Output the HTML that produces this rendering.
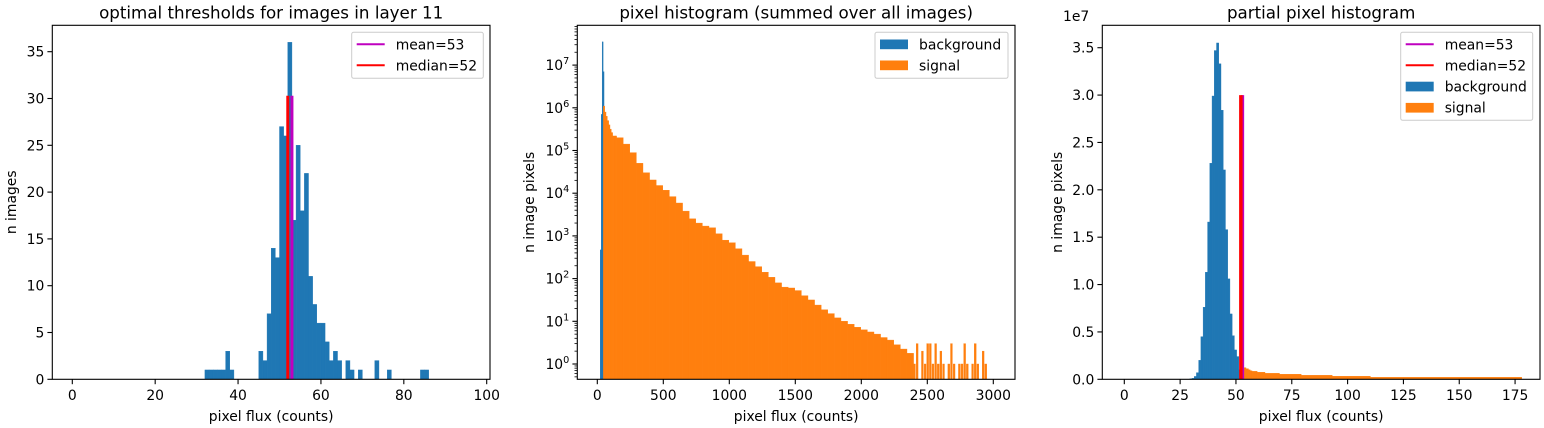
<!DOCTYPE html>
<html><head><meta charset="utf-8">
<style>
html,body{margin:0;padding:0;background:#fff;}
svg{display:block;font-family:"DejaVu Sans","Liberation Sans",sans-serif;}
text{fill:#000;}
</style></head>
<body>
<svg id="fig" width="1544" height="428" viewBox="0 0 1544 428" xmlns="http://www.w3.org/2000/svg"></svg>
<script>
// ---------- data: chart 1 (optimal thresholds) ----------
const thrBinStarts = [32,33,34,35,36,37,38,45,46,47,48,49,50,51,52,53,54,55,56,57,58,59,60,61,62,63,64,66,67,69,73,76,84,85];
const thrCounts    = [1,1,1,1,1,3,1,3,2,7,14,13,27,26,36,17,25,18,22,11,8,6,6,4,2,3,2,2,1,1,2,1,1,1];
const thrMean = 53, thrMedian = 52, thrLineHeight = 30.3;
const c1XTicks = [0,20,40,60,80,100];
const c1YTicks = [0,5,10,15,20,25,30,35];

// ---------- data: chart 2 (full histogram, log) ----------
const bgEdges2 = [22,30,37,44,51];
const bgCounts2 = [470,700000,35000000,7000000];
const headStart2 = 46, headBin2 = 10;
const headLog2 = [6.04,5.9,5.8,5.7,5.6,5.5,5.42,5.34,5.34,5.34];
const sigStart2 = 146, sigBin2 = 50;
const sigLog2 = [5.3,5.15,4.95,4.7,4.48,4.31,4.18,4.07,3.92,3.77,3.58,3.4,3.3,3.23,3.19,3.05,2.9,2.84,2.7,2.55,2.4,2.28,2.15,2.03,1.9,1.8,1.78,1.72,1.6,1.5,1.38,1.27,1.18,1.08,1.0,0.93,0.86,0.8,0.75,0.7,0.62,0.56,0.45,0.35,0.25];
const tailStart2 = 2396, tailBin2 = 20;
const tailCounts2 = [1,3,0,2,1,3,3,1,3,1,2,1,0,1,3,1,0,1,1,3,1,0,1,3,1,0,2,1];
const c2XTicks = [0,500,1000,1500,2000,2500,3000];
const c2YTicks = [0,1,2,3,4,5,6,7];

// ---------- data: chart 3 (partial histogram, units of 1e6) ----------
const bgStart3 = 29.3;
const bgVals3 = [0.05,0.1,0.3,0.7,2.0,4.5,7.6,11.3,16.6,22.8,29.9,34.7,35.5,33.3,28.4,22.1,15.8,10.6,6.9,4.6,3.1,2.4,1.0];
const sigEdges3 = [53,54.5,55.6,56.4,57.2,59.5,63,69.5,79.2,93.1,110.2,178];
const sigVals3 = [1.23,1.12,1.0,0.9,0.84,0.74,0.63,0.53,0.42,0.32,0.21];
const c3Mean = 53, c3Median = 52.2, c3LineHeight = 30;
const c3XTicks = [0,25,50,75,100,125,150,175];
const c3YTicks = [0,0.5,1.0,1.5,2.0,2.5,3.0,3.5];

const BLUE = '#1f77b4', ORANGE = '#ff7f0e';
const FS = 13.9, TFS = 16.7;
const svg = document.getElementById('fig');
const NS = 'http://www.w3.org/2000/svg';
function mk(tag, attrs, parent){
  const e = document.createElementNS(NS, tag);
  for (const k in attrs) e.setAttribute(k, attrs[k]);
  (parent||svg).appendChild(e);
  return e;
}
function frame(g, L, R, T, B){
  const f = mk('rect', {x:L, y:T, width:R-L, height:B-T, fill:'none', stroke:'#000', 'stroke-width':1.1}, g);
  
  
}
function xTick(g, x, B, label){
  const t = mk('line', {x1:x, x2:x, y1:B, y2:B+4.9, stroke:'#000', 'stroke-width':1.1}, g);
  
  
  const tx = mk('text', {x:x, y:B+20.5, 'font-size':FS, 'text-anchor':'middle'}, g);
  tx.textContent = label;
  
  
}
function yTick(g, y, L, label, sup){
  const t = mk('line', {x1:L-4.9, x2:L, y1:y, y2:y, stroke:'#000', 'stroke-width':1.1}, g);
  
  
  const tx = mk('text', {x:L-8, y:y+5, 'font-size':FS, 'text-anchor':'end'}, g);
  tx.textContent = label;
  if (sup !== undefined){
    const s = mk('tspan', {dy:-6, 'font-size':9.7}, tx);
    s.textContent = sup;
  }
  
  
}
function labels(g, L, R, T, B, title, xl, yl, ylx){
  const t = mk('text', {x:(L+R)/2, y:T-7, 'font-size':TFS, 'text-anchor':'middle'}, g);
  t.textContent = title;
  
  
  const x = mk('text', {x:(L+R)/2, y:B+41.5, 'font-size':FS, 'text-anchor':'middle'}, g);
  x.textContent = xl;
  
  
  const cy = (T+B)/2;
  const y = mk('text', {x:ylx, y:cy, 'font-size':FS, 'text-anchor':'middle', transform:'rotate(-90 '+ylx+' '+cy+')'}, g);
  y.textContent = yl;
  
  
}
function bar(g, x0, x1, y0, y1, color, name){
  const r = mk('rect', {x:Math.min(x0,x1), y:Math.min(y0,y1), width:Math.abs(x1-x0), height:Math.abs(y1-y0), fill:color, stroke:color, 'stroke-width':0.4}, g);
  
  
  return r;
}
function legendBox(g, x, y, w, h){
  const r = mk('rect', {x:x, y:y, width:w, height:h, rx:2, fill:'#fff', 'fill-opacity':0.8, stroke:'#ccc', 'stroke-width':1}, g);
  
  
}
function legendLine(g, x, y, color, label){
  const l = mk('line', {x1:x, x2:x+28, y1:y, y2:y, stroke:color, 'stroke-width':2}, g);
  
  
  const t = mk('text', {x:x+39, y:y+5, 'font-size':FS}, g);
  t.textContent = label;
  
  
}
function legendPatch(g, x, y, color, label){
  const r = mk('rect', {x:x, y:y-4.8, width:28, height:9.7, fill:color}, g);
  
  
  const t = mk('text', {x:x+39, y:y+5, 'font-size':FS}, g);
  t.textContent = label;
  
  
}

// ================= Chart 1 =================
(function(){
  const L=52.3,R=490,T=25.3,B=379.3;
  const g = mk('g', {});
  
  
  const X = v => 72.3 + v*4.144;
  const Y = v => B - v*9.36;
  for (let i=0;i<thrBinStarts.length;i++){
    bar(g, X(thrBinStarts[i]), X(thrBinStarts[i]+1), Y(0), Y(thrCounts[i]), BLUE, 'threshold-bar');
  }
  const m = mk('line', {x1:X(thrMean), x2:X(thrMean), y1:Y(0), y2:Y(thrLineHeight), stroke:'#bf00bf', 'stroke-width':3}, g);
  
  
  const md = mk('line', {x1:X(thrMedian), x2:X(thrMedian), y1:Y(0), y2:Y(thrLineHeight), stroke:'#ff0000', 'stroke-width':3}, g);
  
  
  frame(g,L,R,T,B);
  c1XTicks.forEach(v => xTick(g, X(v), B, String(v)));
  c1YTicks.forEach(v => yTick(g, Y(v), L, String(v)));
  labels(g,L,R,T,B,'optimal thresholds for images in layer 11','pixel flux (counts)','n images',16);
  legendBox(g, 351.7, 32.3, 131.6, 46);
  legendLine(g, 356.7, 44.3, '#bf00bf', 'mean=53');
  legendLine(g, 356.7, 65.3, '#ff0000', 'median=52');
})();

// ================= Chart 2 =================
(function(){
  const L=577.3,R=1015,T=25.3,B=379.3;
  const g = mk('g', {});
  
  
  const X = v => 597.3 + v*0.132;
  const YL = lg => 364 - lg*42.7;
  for (let i=0;i<bgCounts2.length;i++){
    bar(g, X(bgEdges2[i]), X(bgEdges2[i+1]), B, YL(Math.log10(bgCounts2[i])), BLUE, 'background-bar');
  }
  for (let i=0;i<headLog2.length;i++){
    bar(g, X(headStart2+i*headBin2), X(headStart2+(i+1)*headBin2), B, YL(headLog2[i]), ORANGE, 'signal-bar');
  }
  for (let i=0;i<sigLog2.length;i++){
    bar(g, X(sigStart2+i*sigBin2), X(sigStart2+(i+1)*sigBin2), B, YL(sigLog2[i]), ORANGE, 'signal-bar');
  }
  for (let i=0;i<tailCounts2.length;i++){
    if (tailCounts2[i] <= 0) continue;
    bar(g, X(tailStart2+i*tailBin2), X(tailStart2+(i+1)*tailBin2)-0.8, B, YL(Math.log10(tailCounts2[i])), ORANGE, 'signal-tail-bar');
  }
  frame(g,L,R,T,B);
  c2XTicks.forEach(v => xTick(g, X(v), B, String(v)));
  c2YTicks.forEach(v => yTick(g, YL(v), L, '10', String(v)));
  for (let d=-1; d<8; d++){
    for (let k=2;k<10;k++){
      const y = YL(d+Math.log10(k));
      if (y<T || y>B) continue;
      const t = mk('line', {x1:L-2.8, x2:L, y1:y, y2:y, stroke:'#000', 'stroke-width':0.8}, g);
      
      
    }
  }
  labels(g,L,R,T,B,'pixel histogram (summed over all images)','pixel flux (counts)','n image pixels',534);
  legendBox(g, 875, 32.3, 133, 46);
  legendPatch(g, 880, 44.3, BLUE, 'background');
  legendPatch(g, 880, 65.3, ORANGE, 'signal');
})();

// ================= Chart 3 =================
(function(){
  const L=1102.3,R=1540,T=25.3,B=379.3;
  const g = mk('g', {});
  
  
  const X = v => 1124.3 + v*2.233;
  const Y = v => B - v*9.474;          // v in units of 1e6
  for (let i=0;i<bgVals3.length;i++){
    bar(g, X(bgStart3+i), X(bgStart3+i+1), B, Y(bgVals3[i]), BLUE, 'background-bar');
  }
  for (let i=0;i<sigVals3.length;i++){
    bar(g, X(sigEdges3[i]), X(sigEdges3[i+1]), B, Y(sigVals3[i]), ORANGE, 'signal-bar');
  }
  const m = mk('line', {x1:X(c3Mean), x2:X(c3Mean), y1:Y(0), y2:Y(c3LineHeight), stroke:'#bf00bf', 'stroke-width':3}, g);
  
  
  const md = mk('line', {x1:X(c3Median), x2:X(c3Median), y1:Y(0), y2:Y(c3LineHeight), stroke:'#ff0000', 'stroke-width':3.5}, g);
  
  
  frame(g,L,R,T,B);
  c3XTicks.forEach(v => xTick(g, X(v), B, String(v)));
  c3YTicks.forEach(v => yTick(g, Y(v*10), L, v.toFixed(1)));
  const e = mk('text', {x:1063, y:21, 'font-size':FS}, g);
  e.textContent = '1e7';
  
  
  labels(g,L,R,T,B,'partial pixel histogram','pixel flux (counts)','n image pixels',1062);
  legendBox(g, 1400.7, 32.3, 132, 88);
  legendLine(g, 1405.7, 44.3, '#bf00bf', 'mean=53');
  legendLine(g, 1405.7, 65.3, '#ff0000', 'median=52');
  legendPatch(g, 1405.7, 86.5, BLUE, 'background');
  legendPatch(g, 1405.7, 107.7, ORANGE, 'signal');
})();
</script>
</body></html>
